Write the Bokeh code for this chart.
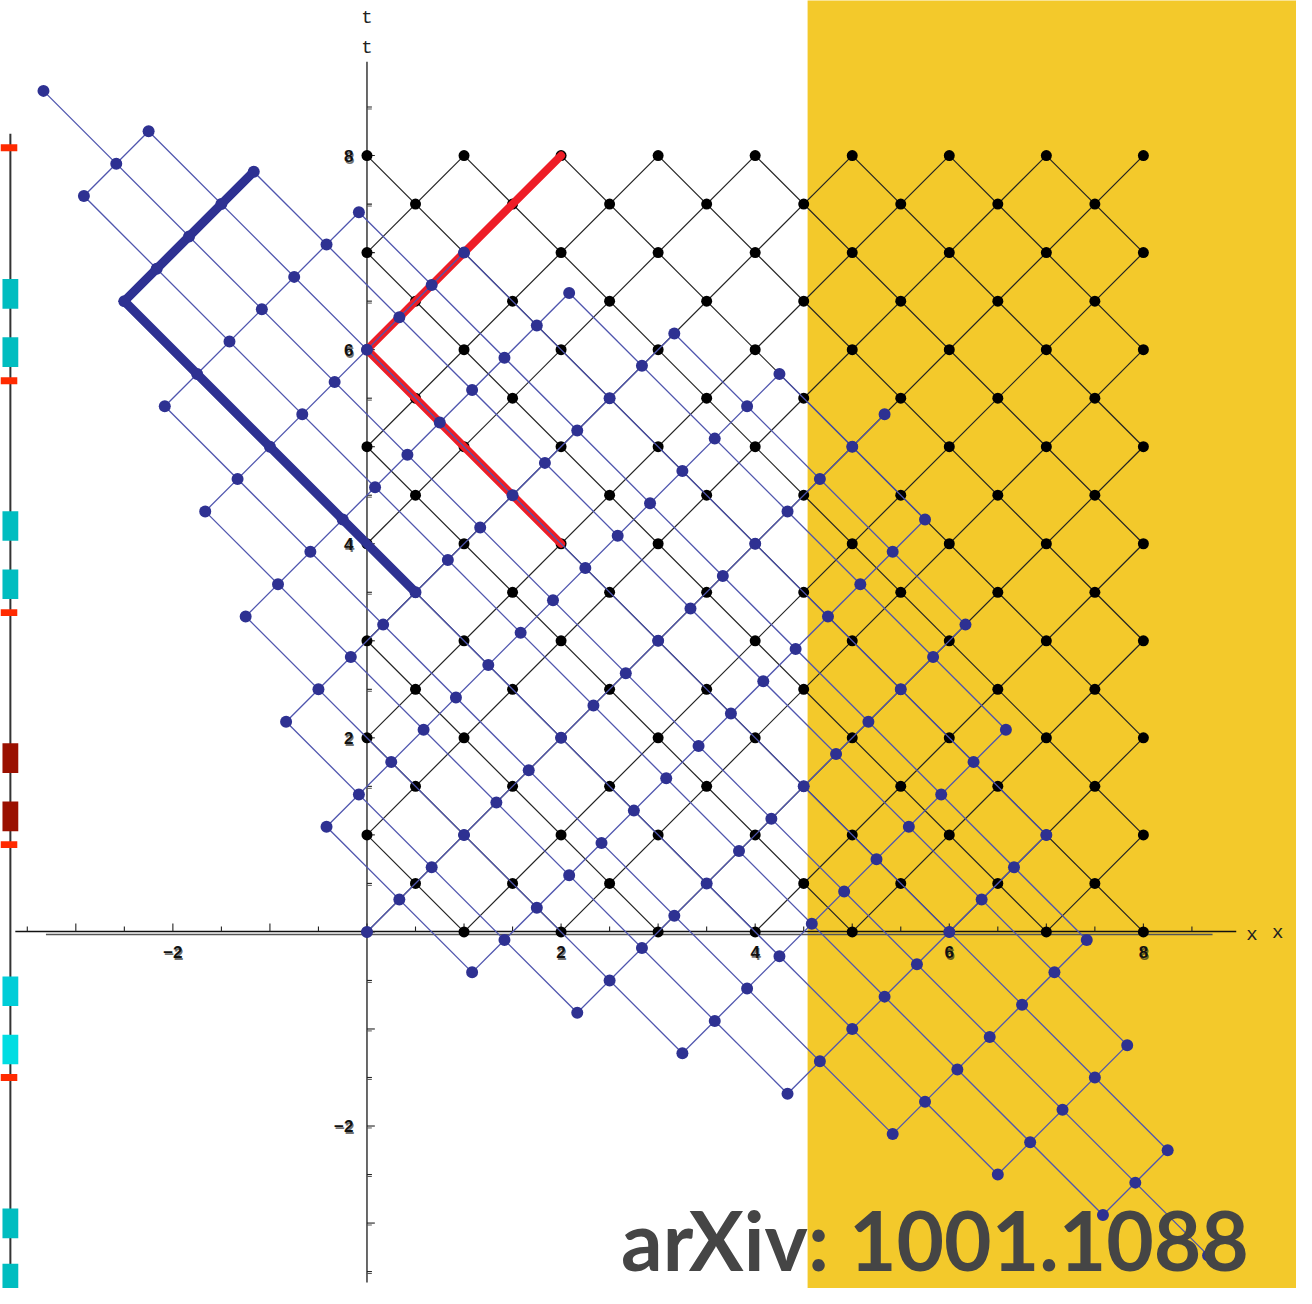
from bokeh.plotting import figure
from bokeh.models import Range1d
from bokeh.embed import file_html
from bokeh.resources import INLINE
from bokeh.core.properties import value

# ---------------- data ----------------
lattice_size = 8                       # black lattice covers 0<=x<=8, 0<=t<=8
lattice_u = list(range(0, 17))         # light-cone coordinate u = t + x
lattice_v = list(range(-8, 9))         # light-cone coordinate v = t - x
boost_k = 2.0 / 3.0                    # blue lattice: u -> k*u, v -> v/k

red_path_x = [2, 0, 2]
red_path_t = [4, 6, 8]

yellow_left_x = 4.54

strip_ticks_t = [8.08, 5.68, 3.29, 0.90, -1.50]
strip_boxes_t = [6.575, 5.975, 4.183, 3.583, 1.791, 1.191, -0.611, -1.211, -3.003, -3.573]
strip_boxes_color = ["#00BDC0", "#00BDC0", "#00BDC0", "#00BDC0", "#9A1000", "#9A1000",
                     "#00CDD8", "#00DDE2", "#00BDC0", "#00BDC0"]

x_tick_values = [-2, 2, 4, 6, 8]
x_tick_labels = ["\u22122", "2", "4", "6", "8"]
t_tick_values = [8, 6, 4, 2, -2]
t_tick_labels = ["8", "6", "4", "2", "\u22122"]
minor_ticks = [i * 0.5 for i in range(-7, 18)]

title_text = "arXiv: 1001.1088"

# ---------------- geometry from the data ----------------
S = 2 * lattice_size


def to_xt(u, v):
    return (u - v) / 2.0, (u + v) / 2.0


def lattice(k):
    sx0, sy0, sx1, sy1 = [], [], [], []
    for u in lattice_u:
        vmin, vmax = max(u - S, -u), min(u, S - u)
        if vmin < vmax:
            a = to_xt(k * u, vmin / k)
            b = to_xt(k * u, vmax / k)
            sx0.append(a[0]); sy0.append(a[1]); sx1.append(b[0]); sy1.append(b[1])
    for v in lattice_v:
        umin, umax = abs(v), S - abs(v)
        if umin < umax:
            a = to_xt(k * umin, v / k)
            b = to_xt(k * umax, v / k)
            sx0.append(a[0]); sy0.append(a[1]); sx1.append(b[0]); sy1.append(b[1])
    px, py = [], []
    for u in lattice_u:
        for v in lattice_v:
            if abs(v) <= u <= S - abs(v):
                x, t = to_xt(k * u, v / k)
                px.append(x); py.append(t)
    return (sx0, sy0, sx1, sy1), (px, py)


def boost_path(xs, ts, k):
    ox, ot = [], []
    for x, t in zip(xs, ts):
        u, v = t + x, t - x
        bx, bt = to_xt(k * u, v / k)
        ox.append(bx); ot.append(bt)
    return ox, ot


black_segs, black_pts = lattice(1.0)
blue_segs, blue_pts = lattice(boost_k)
blue_path_x, blue_path_t = boost_path(red_path_x, red_path_t, boost_k)

# ---------------- figure ----------------
PX = 98.25   # reference pixels per unit
X0, Y0 = 371, 943  # reference pixel of the origin


def ux(X):
    return (X - X0) / PX


def ut(Y):
    return (Y0 - Y) / PX


p = figure(width=1296, height=1288,
           x_range=Range1d(ux(0), ux(1312)),
           y_range=Range1d(ut(1304), ut(0)),
           output_backend="svg", toolbar_location=None,
           x_axis_type=None, y_axis_type=None, min_border=0)
p.outline_line_color = None
p.background_fill_color = "white"
p.border_fill_color = "white"

# yellow band
p.quad(left=yellow_left_x, right=10, bottom=-4, top=10, fill_color="#F3C92B", line_color=None)

# axes (two slightly offset overlays)
p.segment(x0=[0], y0=[ut(1298)], x1=[0], y1=[ut(62)], line_color="#444444", line_width=1.6)
p.segment(x0=[ux(15)], y0=[0.005], x1=[ux(1251)], y1=[0.005], line_color="#111111", line_width=1.4)
p.segment(x0=[ux(46)], y0=[-0.026], x1=[ux(1227)], y1=[-0.026], line_color="#555555", line_width=1.4)

tick_len = [0.081 if abs(v - round(v)) < 1e-9 else 0.051 for v in minor_ticks]
p.segment(x0=minor_ticks, y0=[0.005] * len(minor_ticks), x1=minor_ticks,
          y1=[0.005 + L for L in tick_len], line_color="#222222", line_width=1.1)
p.segment(x0=[0] * len(minor_ticks), y0=minor_ticks, x1=[L for L in tick_len],
          y1=minor_ticks, line_color="#222222", line_width=1.1)
p.segment(x0=[0] * len(minor_ticks), y0=[v - 0.02 for v in minor_ticks], x1=[0.05] * len(minor_ticks),
          y1=[v - 0.02 for v in minor_ticks], line_color="#555555", line_width=1.0)

for dx, dy, a in [(0, 0, 1.0), (1, 2, 0.6)]:
    p.text(x=x_tick_values, y=[-0.14] * len(x_tick_values), text=x_tick_labels,
           text_align="center", text_baseline="top", text_font=value("Liberation Sans"),
           text_font_style="bold", text_font_size="17px", text_color="#111111",
           text_alpha=a, x_offset=dx, y_offset=dy)
    p.text(x=[-0.14] * len(t_tick_values), y=t_tick_values, text=t_tick_labels,
           text_align="right", text_baseline="middle", text_font=value("Liberation Sans"),
           text_font_style="bold", text_font_size="17px", text_color="#111111",
           text_alpha=a, x_offset=dx, y_offset=dy)

p.text(x=[0, 0], y=[ut(18), ut(48)], text=["t", "t"], text_align="center",
       text_baseline="middle", text_font=value("Liberation Mono"), text_font_size="19px",
       text_color="#222222")
p.text(x=[ux(1267), ux(1293)], y=[ut(946), ut(944)], text=["x", "x"],
       text_align="center", text_baseline="middle", text_font=value("Liberation Mono"),
       text_font_size="19px", text_color="#222222")

# black lattice
p.segment(x0=black_segs[0], y0=black_segs[1], x1=black_segs[2], y1=black_segs[3],
          line_color="#222222", line_width=1.2)
p.scatter(x=black_pts[0], y=black_pts[1], size=11, fill_color="black", line_color=None)

# red world-line
p.line(x=red_path_x, y=red_path_t, line_color="#EE1D26", line_width=8,
       line_cap="round", line_join="miter")

# blue (boosted) lattice
p.segment(x0=blue_segs[0], y0=blue_segs[1], x1=blue_segs[2], y1=blue_segs[3],
          line_color="#4F55AE", line_width=1.3)
p.scatter(x=blue_pts[0], y=blue_pts[1], size=12, fill_color="#2E3192", line_color=None)
p.line(x=blue_path_x, y=blue_path_t, line_color="#2E3192", line_width=9,
       line_cap="round", line_join="miter")

# left strip
strip_x = ux(10)
p.segment(x0=[strip_x], y0=[ut(135)], x1=[strip_x], y1=[-4],
          line_color="#333333", line_width=2)
p.rect(x=[ux(8.5)] * len(strip_ticks_t), y=strip_ticks_t, width=17 / PX, height=7 / PX,
       fill_color="#FF2A00", line_color=None)
p.rect(x=[strip_x] * len(strip_boxes_t), y=strip_boxes_t, width=16 / PX, height=30 / PX,
       fill_color=strip_boxes_color, line_color=None)

# title
p.text(x=[ux(946)], y=[ut(1254)], text=[title_text], text_align="center",
       text_baseline="middle", text_font=value("Lato"), text_font_style="bold",
       text_font_size="82px", text_color="#454545")

open("out.html", "w").write(file_html(p, INLINE))
